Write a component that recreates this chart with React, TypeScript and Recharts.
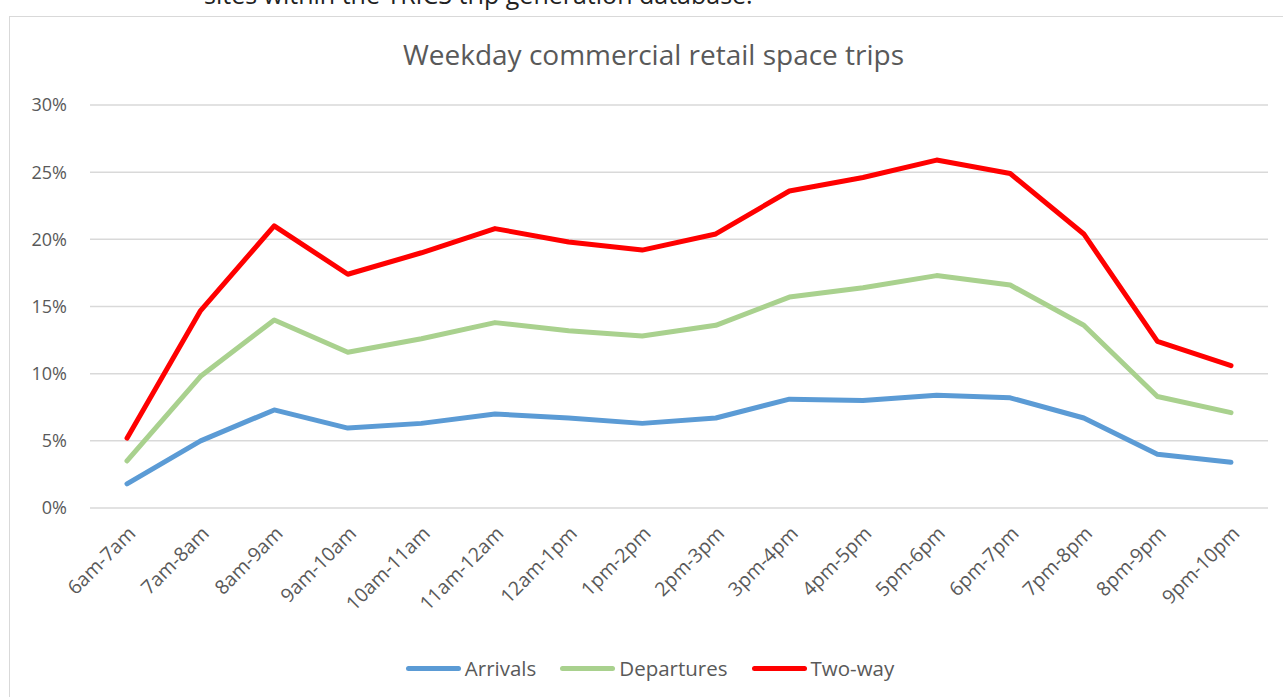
import { LineChart, Line, XAxis, YAxis, CartesianGrid, Legend } from "recharts";

const CATEGORIES = [
  "6am-7am", "7am-8am", "8am-9am", "9am-10am", "10am-11am", "11am-12am", "12am-1pm", "1pm-2pm",
  "2pm-3pm", "3pm-4pm", "4pm-5pm", "5pm-6pm", "6pm-7pm", "7pm-8pm", "8pm-9pm", "9pm-10pm",
];

const ARRIVALS = [1.8, 5.0, 7.3, 5.95, 6.3, 7.0, 6.7, 6.3, 6.7, 8.1, 8.0, 8.4, 8.2, 6.7, 4.0, 3.4];
const DEPARTURES = [3.5, 9.8, 14.0, 11.6, 12.6, 13.8, 13.2, 12.8, 13.6, 15.7, 16.4, 17.3, 16.6, 13.6, 8.3, 7.1];
const TWO_WAY = [5.2, 14.7, 21.0, 17.4, 19.0, 20.8, 19.8, 19.2, 20.4, 23.6, 24.6, 25.9, 24.9, 20.4, 12.4, 10.6];

const Y_TICKS = [0, 5, 10, 15, 20, 25, 30];

const SERIES = [
  { key: "arrivals", name: "Arrivals", color: "#5B9BD5" },
  { key: "departures", name: "Departures", color: "#A9D18E" },
  { key: "twoWay", name: "Two-way", color: "#FF0000" },
];

const FONT = "'Open Sans', sans-serif";
const TEXT = "#595959";

const data = CATEGORIES.map((name, i) => ({
  name,
  arrivals: ARRIVALS[i],
  departures: DEPARTURES[i],
  twoWay: TWO_WAY[i],
}));

function LegendContent() {
  return (
    <div style={{ display: "flex", justifyContent: "center", alignItems: "center", fontFamily: FONT, fontSize: 20.5, color: TEXT, paddingLeft: 2 }}>
      {SERIES.map((s) => (
        <div key={s.key} style={{ display: "flex", alignItems: "center", margin: "0 12px" }}>
          <span style={{ display: "inline-block", width: 55, height: 5, borderRadius: 3, background: s.color, marginRight: 4 }} />
          <span>{s.name}</span>
        </div>
      ))}
    </div>
  );
}

export default function App() {
  return (
    <div style={{ position: "absolute", left: 0, top: 0, width: 1283, height: 697, overflow: "hidden", background: "#fff" }}>
      <div style={{ position: "absolute", left: 204, top: -18, fontFamily: FONT, fontSize: 25, lineHeight: 1, color: "#222", whiteSpace: "nowrap" }}>
        sites within the TRICS trip generation database.
      </div>
      <div style={{ position: "absolute", left: 9, top: 16, width: 1400, height: 800, border: "1px solid #d9d9d9" }} />
      <div style={{ position: "absolute", left: 0, top: 35, width: 1283, textAlign: "center", fontFamily: FONT, fontSize: 28, color: TEXT, paddingLeft: 24, boxSizing: "border-box" }}>
        Weekday commercial retail space trips
      </div>
      <div style={{ position: "absolute", left: 0, top: 0 }}>
        <LineChart width={1283} height={697} data={data} margin={{ top: 105, right: 15, bottom: 19, left: 30 }}>
          <CartesianGrid vertical={false} stroke="#d9d9d9" strokeWidth={1.5} />
          <XAxis
            dataKey="name"
            axisLine={false}
            tickLine={false}
            interval={0}
            height={146}
            tickSize={0}
            tickMargin={17}
            angle={-45}
            textAnchor="end"
            padding={{ left: 37, right: 37 }}
            tick={{ fill: TEXT, fontSize: 19.5, fontFamily: FONT }}
          />
          <YAxis
            domain={[0, 30]}
            ticks={Y_TICKS}
            width={60}
            axisLine={false}
            tickLine={false}
            tickSize={0}
            tickMargin={23}
            tickFormatter={(v) => `${v}%`}
            tick={{ fill: TEXT, fontSize: 18, fontFamily: FONT }}
          />
          <Legend verticalAlign="bottom" height={24} content={<LegendContent />} />
          {SERIES.map((s) => (
            <Line
              key={s.key}
              type="linear"
              dataKey={s.key}
              name={s.name}
              stroke={s.color}
              strokeWidth={5}
              strokeLinejoin="round"
              strokeLinecap="round"
              dot={false}
              activeDot={false}
              isAnimationActive={false}
            />
          ))}
        </LineChart>
      </div>
    </div>
  );
}
